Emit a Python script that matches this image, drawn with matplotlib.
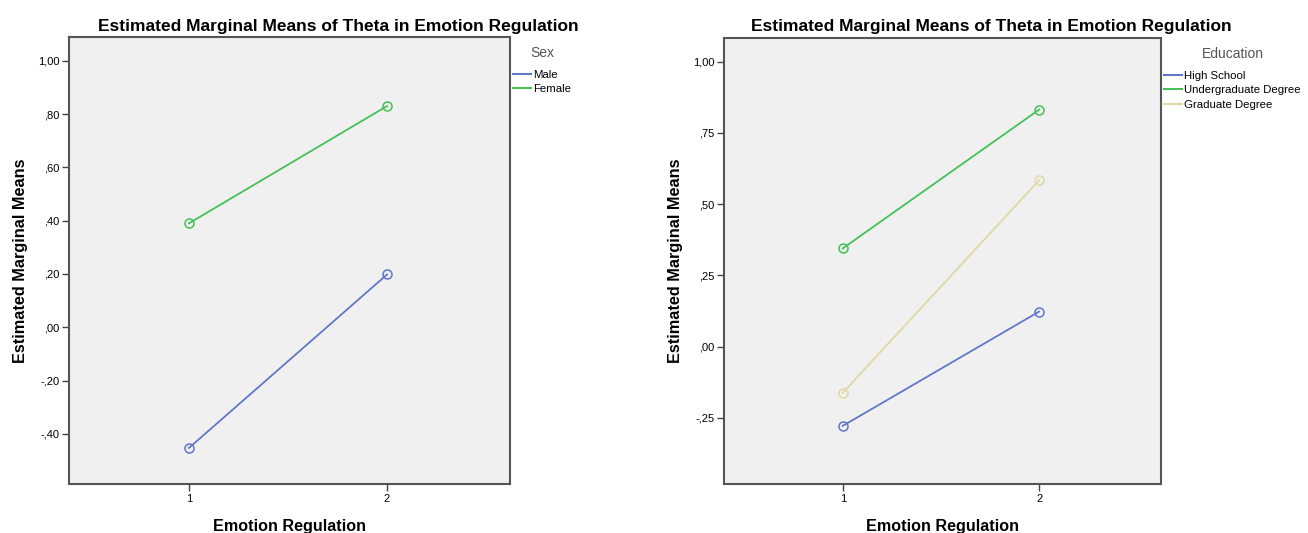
import matplotlib
matplotlib.use("Agg")
import matplotlib.pyplot as plt
from matplotlib.lines import Line2D

plt.rcParams['font.family'] = ['Liberation Sans', 'DejaVu Sans']

# x categories (Emotion Regulation levels)
levels = [1, 2]

# left panel: Sex
sex_names = ['Male', 'Female']
sex_means = [[-0.453, 0.198], [0.39, 0.83]]
sex_ticks = [-0.40, -0.20, 0.00, 0.20, 0.40, 0.60, 0.80, 1.00]
sex_ticklabels = ['-,40', '-,20', ',00', ',20', ',40', ',60', ',80', '1,00']

# right panel: Education
edu_names = ['High School', 'Undergraduate Degree', 'Graduate Degree']
edu_means = [[-0.278, 0.123], [0.345, 0.832], [-0.162, 0.584]]
edu_ticks = [-0.25, 0.00, 0.25, 0.50, 0.75, 1.00]
edu_ticklabels = ['-,25', ',00', ',25', ',50', ',75', '1,00']

colors = ['#6277c9', '#45c157', '#e0d8a4']
title = 'Estimated Marginal Means of Theta in Emotion Regulation'

fig = plt.figure(figsize=(13.08, 5.33), dpi=100)
ax1 = fig.add_axes([0.0528, 0.092, 0.337, 0.839])
ax2 = fig.add_axes([0.5535, 0.092, 0.334, 0.837])


def draw(ax, names, means, ticks, ticklabels, ylim, legend_title, title_x):
    ax.set_facecolor('#f0f0f0')
    handles = []
    for i in range(len(names)):
        ax.plot(levels, means[i], color=colors[i], lw=1.3, marker='o',
                ms=6.5, mfc='none', mec=colors[i], mew=1.1)
        handles.append(Line2D([], [], color=colors[i], lw=1.5, label=names[i]))
    ax.set_xlim(0.395, 2.62)
    ax.set_ylim(*ylim)
    ax.set_xticks(levels)
    ax.set_xticklabels([str(l) for l in levels])
    ax.set_yticks(ticks)
    ax.set_yticklabels(ticklabels)
    ax.tick_params(labelsize=8, length=5, width=1, color='#444444', pad=2)
    for s in ax.spines.values():
        s.set_color('#555555')
        s.set_linewidth(1.5)
    fig.text(title_x, 0.951, title, fontsize=12.5, fontweight='bold',
             ha='center', va='center')
    ax.set_xlabel('Emotion Regulation', fontsize=11.6, fontweight='bold', labelpad=11)
    ax.set_ylabel('Estimated Marginal Means', fontsize=11.7, fontweight='bold', labelpad=7)
    leg = ax.legend(handles=handles, loc='upper left', bbox_to_anchor=(1.0, 0.987),
                    frameon=False, fontsize=8.2, title=legend_title, title_fontsize=10,
                    handlelength=1.6, handletextpad=0.15, borderaxespad=0.1,
                    labelspacing=0.4, borderpad=0.2)
    leg.get_title().set_color('#555555')
    # wider gap between legend title and entries
    leg._legend_box.sep = 7


draw(ax1, sex_names, sex_means, sex_ticks, sex_ticklabels, (-0.588, 1.09), 'Sex', 338 / 1308)
draw(ax2, edu_names, edu_means, edu_ticks, edu_ticklabels, (-0.482, 1.084), 'Education', 991 / 1308)

fig.savefig('out.png', dpi=100)
